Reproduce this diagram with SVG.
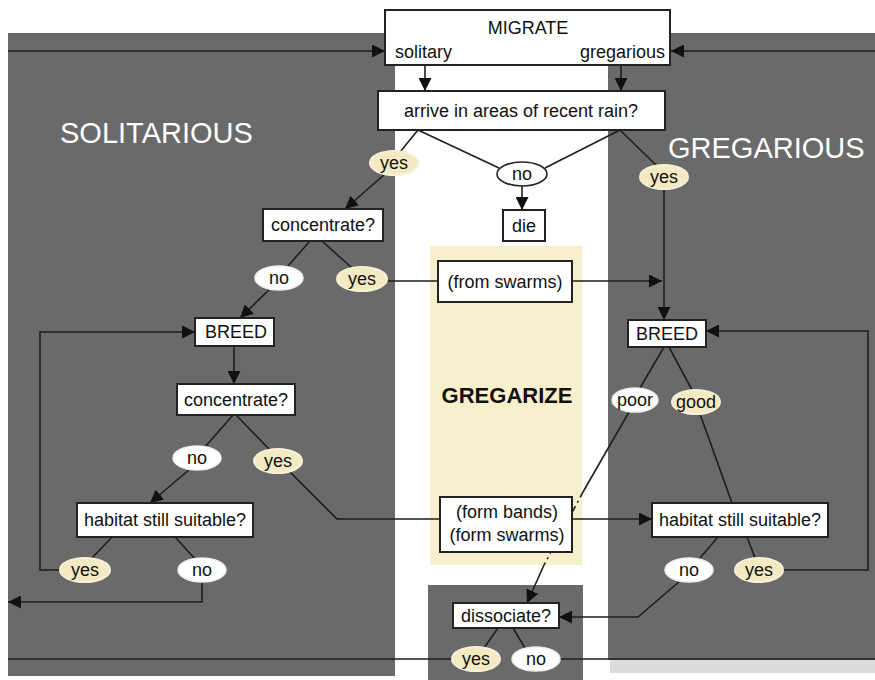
<svg xmlns="http://www.w3.org/2000/svg" width="875" height="680" viewBox="0 0 875 680">
<defs>
<marker id="ah" markerUnits="userSpaceOnUse" markerWidth="13" markerHeight="13" refX="13" refY="6.5" orient="auto">
<path d="M0,0 L13,6.5 L0,13 z" fill="#111"/>
</marker>
<style>
.bg{fill:#6a6a6a}
.c{fill:none;stroke:#1e1e1e;stroke-width:1.6}
.a{marker-end:url(#ah)}
.box{fill:#fff;stroke:#222;stroke-width:2}
.t{font-family:"Liberation Sans",Arial,sans-serif;font-size:18px;fill:#111;text-anchor:middle}
.big{font-family:"Liberation Sans",Arial,sans-serif;font-size:29px;fill:#fff}
.yes{fill:#f3eac3;stroke:#f7f0d6;stroke-width:2}
.no{fill:#fff;stroke:#eee;stroke-width:1.5}
.nob{fill:#fff;stroke:#222;stroke-width:1.6}
</style>
</defs>
<rect width="875" height="680" fill="#fff"/>
<g id="backgrounds">
<rect class="bg" x="8" y="33" width="387" height="643"/>
<rect x="610" y="660" width="265" height="13" fill="#dcdcdc"/>
<rect class="bg" x="608" y="33" width="267" height="627"/>
<rect class="bg" x="428" y="585" width="155" height="95"/>
<rect x="430" y="246" width="152" height="319" fill="#f8f0cc"/>
<text class="big" x="60" y="143">SOLITARIOUS</text>
<text class="big" x="668" y="158">GREGARIOUS</text>
<text x="507" y="403" style="font-family:'Liberation Sans',Arial,sans-serif;font-size:22px;font-weight:bold;fill:#111;text-anchor:middle">GREGARIZE</text>
</g>
<g id="connectors">
<line class="c a" x1="8" y1="51" x2="385" y2="51"/>
<line class="c a" x1="875" y1="51" x2="671" y2="51"/>
<line class="c a" x1="425" y1="65" x2="425" y2="91"/>
<line class="c a" x1="621" y1="65" x2="621" y2="91"/>
<line class="c" x1="418" y1="130" x2="400" y2="152"/>
<line class="c a" x1="385" y1="174" x2="345" y2="209"/>
<line class="c" x1="418" y1="130" x2="499" y2="168"/>
<line class="c" x1="620" y1="130" x2="545" y2="168"/>
<line class="c" x1="620" y1="130" x2="657" y2="166"/>
<line class="c a" x1="522" y1="186" x2="522" y2="210"/>
<line class="c a" x1="664" y1="189" x2="664" y2="320"/>
<line class="c" x1="310" y1="241" x2="288" y2="266"/>
<line class="c" x1="322" y1="241" x2="352" y2="268"/>
<line class="c" x1="387" y1="281" x2="438" y2="281"/>
<line class="c a" x1="572" y1="281" x2="662" y2="281"/>
<line class="c a" x1="270" y1="289" x2="240" y2="318"/>
<path class="c a" d="M62,570 H40 V332 H195"/>
<line class="c a" x1="234" y1="346" x2="234" y2="384"/>
<line class="c" x1="233" y1="415" x2="205" y2="447"/>
<line class="c" x1="236" y1="415" x2="270" y2="450"/>
<path class="c" d="M290,472 L337,519 H440"/>
<line class="c a" x1="190" y1="469" x2="150" y2="503"/>
<line class="c" x1="112" y1="537" x2="92" y2="558"/>
<line class="c" x1="175" y1="537" x2="195" y2="559"/>
<path class="c a" d="M202,582 V602 H8"/>
<path class="c" d="M452,659 H8"/>
<path class="c" d="M560,659 H875"/>
<line class="c" x1="664" y1="347" x2="640" y2="388"/>
<line class="c" x1="669" y1="347" x2="692" y2="390"/>
<line class="c" x1="700" y1="414" x2="732" y2="503"/>
<line class="c" x1="629" y1="412" x2="583" y2="492"/>
<line class="c" x1="583" y1="492" x2="544" y2="565" stroke-dasharray="6 4 2 4"/>
<line class="c a" x1="544" y1="565" x2="527" y2="603"/>
<line class="c a" x1="572" y1="519" x2="652" y2="519"/>
<line class="c" x1="718" y1="537" x2="700" y2="558"/>
<line class="c" x1="747" y1="537" x2="755" y2="558"/>
<path class="c a" d="M783,570 H868 V331 H706"/>
<path class="c a" d="M680,581 L638,617 H559"/>
<line class="c" x1="498" y1="628" x2="484" y2="648"/>
<line class="c" x1="513" y1="628" x2="525" y2="648"/>
</g>
<g id="migrate"><rect class="box" x="385" y="10" width="285" height="55"/>
<text class="t" x="528" y="34">MIGRATE</text>
<text class="t" x="395" y="58" style="text-anchor:start">solitary</text>
<text class="t" x="665" y="58" style="text-anchor:end">gregarious</text></g>
<g id="arrive"><rect class="box" x="378" y="91" width="287" height="39"/><text class="t" x="521" y="117">arrive in areas of recent rain?</text></g>
<g id="yes-top-left"><ellipse class="yes" cx="394" cy="163" rx="24" ry="12"/><text class="t" x="394" y="169">yes</text></g>
<g id="no-top"><ellipse class="nob" cx="522" cy="174" rx="25" ry="12"/><text class="t" x="522" y="180">no</text></g>
<g id="yes-top-right"><ellipse class="yes" cx="664" cy="177" rx="24" ry="12"/><text class="t" x="664" y="183">yes</text></g>
<g id="die"><rect class="box" x="503" y="210" width="42" height="31"/><text class="t" x="524" y="232">die</text></g>
<g id="concentrate1"><rect class="box" x="263" y="209" width="120" height="32"/><text class="t" x="323" y="231">concentrate?</text></g>
<g id="no-c1"><ellipse class="no" cx="279" cy="278" rx="24" ry="12"/><text class="t" x="279" y="284">no</text></g>
<g id="yes-c1"><ellipse class="yes" cx="362" cy="279" rx="25" ry="12"/><text class="t" x="362" y="285">yes</text></g>
<g id="from-swarms"><rect class="box" x="438" y="261" width="134" height="41"/><text class="t" x="505" y="288">(from swarms)</text></g>
<g id="breed-left"><rect class="box" x="195" y="318" width="79" height="28"/><text class="t" x="236" y="338">BREED</text></g>
<g id="breed-right"><rect class="box" x="628" y="320" width="78" height="27"/><text class="t" x="667" y="340">BREED</text></g>
<g id="concentrate2"><rect class="box" x="177" y="384" width="118" height="31"/><text class="t" x="236" y="406">concentrate?</text></g>
<g id="no-c2"><ellipse class="no" cx="197" cy="458" rx="24" ry="12"/><text class="t" x="197" y="464">no</text></g>
<g id="yes-c2"><ellipse class="yes" cx="278" cy="461" rx="24" ry="12"/><text class="t" x="278" y="467">yes</text></g>
<g id="poor"><ellipse class="no" cx="635" cy="400" rx="23" ry="12"/><text class="t" x="635" y="406">poor</text></g>
<g id="good"><ellipse class="yes" cx="696" cy="402" rx="24" ry="12"/><text class="t" x="696" y="408">good</text></g>
<g id="habitat-left"><rect class="box" x="77" y="503" width="176" height="34"/><text class="t" x="165" y="526">habitat still suitable?</text></g>
<g id="form-bands"><rect class="box" x="440" y="497" width="132" height="55"/><text class="t" x="507" y="518">(form bands)</text><text class="t" x="507" y="541">(form swarms)</text></g>
<g id="habitat-right"><rect class="box" x="652" y="503" width="176" height="34"/><text class="t" x="740" y="526">habitat still suitable?</text></g>
<g id="yes-h-left"><ellipse class="yes" cx="85" cy="570" rx="25" ry="12"/><text class="t" x="85" y="576">yes</text></g>
<g id="no-h-left"><ellipse class="no" cx="202" cy="570" rx="24" ry="12"/><text class="t" x="202" y="576">no</text></g>
<g id="no-h-right"><ellipse class="no" cx="689" cy="570" rx="24" ry="12"/><text class="t" x="689" y="576">no</text></g>
<g id="yes-h-right"><ellipse class="yes" cx="759" cy="570" rx="24" ry="12"/><text class="t" x="759" y="576">yes</text></g>
<g id="dissociate"><rect class="box" x="453" y="603" width="106" height="25"/><text class="t" x="506" y="622">dissociate?</text></g>
<g id="yes-d"><ellipse class="yes" cx="476" cy="659" rx="24" ry="12"/><text class="t" x="476" y="665">yes</text></g>
<g id="no-d"><ellipse class="no" cx="536" cy="659" rx="24" ry="12"/><text class="t" x="536" y="665">no</text></g>
</svg>
